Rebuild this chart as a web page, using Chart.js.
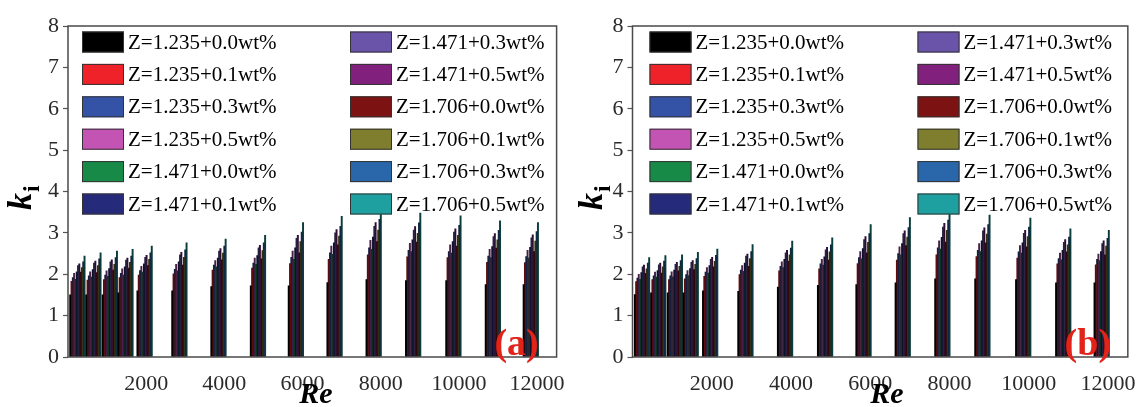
<!DOCTYPE html>
<html>
<head>
<meta charset="utf-8">
<script src="https://cdn.jsdelivr.net/npm/chart.js@4"></script>
<style>
  body { margin: 0; background: #fff; }
  #wrap { display: flex; width: 1142px; height: 407px; }
  canvas { display: block; }
</style>
</head>
<body>
<div id="wrap">
  <canvas id="chartA" width="571" height="407"></canvas>
  <canvas id="chartB" width="571" height="407"></canvas>
</div>
<script>
// group positions on the Re axis (centre of each 12-bar group)
const re = [240, 650, 1070, 1470, 1960, 2850, 3850, 4860, 5830, 6820, 7820, 8830, 9860, 10870, 11840]

const seriesNames = [
  'Z=1.235+0.0wt%', 'Z=1.235+0.1wt%', 'Z=1.235+0.3wt%', 'Z=1.235+0.5wt%',
  'Z=1.471+0.0wt%', 'Z=1.471+0.1wt%', 'Z=1.471+0.3wt%', 'Z=1.471+0.5wt%',
  'Z=1.706+0.0wt%', 'Z=1.706+0.1wt%', 'Z=1.706+0.3wt%', 'Z=1.706+0.5wt%'
]
const seriesColors = [
  '#000000', '#ee2228', '#3452a6', '#c454b4',
  '#178a48', '#262a7a', '#6a54aa', '#82207e',
  '#7c1212', '#7e7e2e', '#2a66aa', '#1fa0a0'
]

const xTicks = [2000, 4000, 6000, 8000, 10000, 12000]

// panel (a)
const kiA1 = [1.50, 1.50, 1.50, 1.55, 1.60, 1.60, 1.70, 1.72, 1.72, 1.80, 1.87, 1.85, 1.85, 1.75, 1.75]
const kiA2 = [1.83, 1.86, 1.87, 1.92, 1.98, 2.01, 2.10, 2.15, 2.26, 2.36, 2.47, 2.42, 2.40, 2.29, 2.28]
const kiA3 = [1.92, 1.96, 1.98, 2.02, 2.09, 2.12, 2.22, 2.27, 2.41, 2.52, 2.64, 2.58, 2.55, 2.44, 2.43]
const kiA4 = [2.02, 2.06, 2.08, 2.13, 2.19, 2.24, 2.33, 2.39, 2.56, 2.68, 2.82, 2.75, 2.71, 2.60, 2.58]
const kiA5 = [1.88, 1.93, 1.95, 1.98, 2.05, 2.08, 2.18, 2.24, 2.36, 2.48, 2.60, 2.55, 2.51, 2.40, 2.39]
const kiA6 = [2.06, 2.11, 2.14, 2.18, 2.25, 2.30, 2.39, 2.45, 2.64, 2.76, 2.90, 2.83, 2.79, 2.67, 2.65]
const kiA7 = [2.21, 2.27, 2.30, 2.34, 2.41, 2.47, 2.56, 2.64, 2.87, 3.00, 3.16, 3.07, 3.02, 2.91, 2.88]
const kiA8 = [2.25, 2.32, 2.35, 2.39, 2.46, 2.53, 2.62, 2.70, 2.94, 3.08, 3.25, 3.15, 3.10, 2.98, 2.95]
const kiA9 = [2.05, 2.04, 2.10, 2.15, 2.21, 2.22, 2.35, 2.37, 2.52, 2.71, 2.79, 2.78, 2.68, 2.63, 2.55]
const kiA10 = [2.16, 2.21, 2.24, 2.29, 2.36, 2.41, 2.51, 2.57, 2.79, 2.92, 3.07, 2.99, 2.94, 2.83, 2.80]
const kiA11 = [2.30, 2.37, 2.40, 2.44, 2.52, 2.59, 2.68, 2.76, 3.02, 3.16, 3.33, 3.24, 3.18, 3.06, 3.03]
const kiA12 = [2.44, 2.52, 2.56, 2.60, 2.68, 2.76, 2.85, 2.94, 3.25, 3.40, 3.59, 3.48, 3.41, 3.29, 3.25]

// panel (b)
const kiB1 = [1.51, 1.55, 1.55, 1.55, 1.60, 1.59, 1.69, 1.73, 1.75, 1.79, 1.89, 1.89, 1.87, 1.79, 1.79]
const kiB2 = [1.82, 1.87, 1.87, 1.89, 1.95, 1.99, 2.08, 2.13, 2.26, 2.34, 2.47, 2.43, 2.39, 2.25, 2.23]
const kiB3 = [1.91, 1.96, 1.96, 1.99, 2.05, 2.10, 2.19, 2.25, 2.40, 2.50, 2.64, 2.58, 2.54, 2.38, 2.36]
const kiB4 = [2.00, 2.05, 2.06, 2.09, 2.16, 2.21, 2.30, 2.36, 2.55, 2.66, 2.81, 2.74, 2.69, 2.51, 2.49]
const kiB5 = [1.88, 1.93, 1.94, 1.97, 2.03, 2.07, 2.16, 2.22, 2.37, 2.47, 2.61, 2.55, 2.51, 2.35, 2.33]
const kiB6 = [2.04, 2.09, 2.10, 2.14, 2.21, 2.27, 2.36, 2.42, 2.62, 2.74, 2.89, 2.81, 2.76, 2.58, 2.55]
const kiB7 = [2.18, 2.23, 2.24, 2.29, 2.36, 2.44, 2.52, 2.59, 2.84, 2.98, 3.14, 3.05, 2.99, 2.77, 2.74]
const kiB8 = [2.22, 2.27, 2.29, 2.33, 2.41, 2.49, 2.58, 2.65, 2.91, 3.05, 3.23, 3.12, 3.06, 2.84, 2.81]
const kiB9 = [2.02, 2.03, 2.08, 2.11, 2.18, 2.19, 2.32, 2.34, 2.52, 2.69, 2.78, 2.76, 2.66, 2.54, 2.47]
const kiB10 = [2.13, 2.18, 2.19, 2.24, 2.31, 2.38, 2.47, 2.54, 2.77, 2.90, 3.06, 2.97, 2.91, 2.71, 2.68]
const kiB11 = [2.27, 2.32, 2.33, 2.38, 2.46, 2.55, 2.63, 2.71, 2.98, 3.13, 3.31, 3.20, 3.14, 2.90, 2.87]
const kiB12 = [2.40, 2.45, 2.47, 2.53, 2.61, 2.72, 2.80, 2.88, 3.20, 3.37, 3.56, 3.43, 3.36, 3.10, 3.06]

const seriesA = [kiA1, kiA2, kiA3, kiA4, kiA5, kiA6, kiA7, kiA8, kiA9, kiA10, kiA11, kiA12]
const seriesB = [kiB1, kiB2, kiB3, kiB4, kiB5, kiB6, kiB7, kiB8, kiB9, kiB10, kiB11, kiB12]

const SERIF = "'Liberation Serif', 'DejaVu Serif', serif"

// the thin bars are mostly black outline in the original, so shade them down
function shade (hex, k) {
  const n = parseInt(hex.slice(1), 16)
  const r = Math.round(((n >> 16) & 255) * k)
  const g = Math.round(((n >> 8) & 255) * k)
  const b = Math.round((n & 255) * k)
  return `rgb(${r}, ${g}, ${b})`
}

// frame, legend, axis titles and panel tag
function decorPlugin (tag, legendLeft) {
  return {
    id: 'decor',
    afterDraw (chart) {
      const ctx = chart.ctx
      const a = chart.chartArea
      ctx.save()

      ctx.strokeStyle = '#4a4a4a'
      ctx.lineWidth = 1.5
      ctx.strokeRect(a.left, a.top, a.right - a.left, a.bottom - a.top)

      // legend: two columns of six
      ctx.font = '21px ' + SERIF
      ctx.textBaseline = 'middle'
      seriesNames.forEach((name, i) => {
        const col = i < 6 ? 0 : 1
        const row = i % 6
        const bx = a.left + legendLeft + col * 268
        const cy = 42 + row * 32.4
        ctx.fillStyle = seriesColors[i]
        ctx.fillRect(bx, cy - 10.5, 42, 21)
        ctx.strokeStyle = '#333'
        ctx.lineWidth = 1
        ctx.strokeRect(bx + 0.5, cy - 10, 41, 20)
        ctx.fillStyle = '#000'
        ctx.textAlign = 'left'
        ctx.fillText(name, bx + 46, cy + 1)
      })

      // y title k_i
      ctx.save()
      ctx.translate(31, 196)
      ctx.rotate(-Math.PI / 2)
      ctx.fillStyle = '#000'
      ctx.textBaseline = 'alphabetic'
      ctx.textAlign = 'left'
      ctx.font = 'italic bold 34px ' + SERIF
      ctx.fillText('k', -14, 0)
      ctx.font = 'bold 24px ' + SERIF
      ctx.fillText('i', 4, 8)
      ctx.restore()

      // x title
      ctx.fillStyle = '#000'
      ctx.textAlign = 'center'
      ctx.textBaseline = 'alphabetic'
      ctx.font = 'italic bold 30px ' + SERIF
      ctx.fillText('Re', 316, 403)

      // panel tag
      ctx.fillStyle = '#e2231a'
      ctx.font = 'bold 38px ' + SERIF
      ctx.textBaseline = 'middle'
      ctx.fillText(tag, a.right - 40, 345)

      ctx.restore()
    }
  }
}

function panelChart (id, series, tag, leftWidth, rightPad, legendLeft) {
  const datasets = series.map((vals, i) => ({
    label: seriesNames[i],
    data: re.map((x, j) => ({ x: x, y: vals[j] })),
    backgroundColor: shade(seriesColors[i], 0.38),
    borderWidth: 0,
    barThickness: 1.3
  }))

  return new Chart(document.getElementById(id), {
    type: 'bar',
    data: { datasets: datasets },
    options: {
      responsive: false,
      animation: false,
      devicePixelRatio: 1,
      layout: { padding: { top: 26, right: rightPad, bottom: 0, left: 0 } },
      plugins: { legend: { display: false }, tooltip: { enabled: false } },
      scales: {
        x: {
          type: 'linear',
          min: 0,
          max: 12500,
          offset: false,
          grid: { display: false, offset: false },
          border: { display: false },
          afterBuildTicks: (scale) => { scale.ticks = xTicks.map(v => ({ value: v })) },
          afterFit: (scale) => { scale.height = 50 },
          ticks: {
            padding: 6,
            maxRotation: 0,
            autoSkip: false,
            color: '#2a2a2a',
            font: { family: SERIF, size: 22 },
            callback: (v) => String(v)
          }
        },
        y: {
          min: 0,
          max: 8,
          grid: { drawOnChartArea: false, tickLength: 5, tickColor: '#555', tickWidth: 1.2 },
          border: { display: false },
          afterFit: (scale) => { scale.width = leftWidth },
          ticks: {
            stepSize: 0.5,
            padding: 4,
            color: '#2a2a2a',
            font: { family: SERIF, size: 22 },
            callback: (v) => Number.isInteger(v) ? v : ''
          }
        }
      }
    },
    plugins: [decorPlugin(tag, legendLeft)]
  })
}

panelChart('chartA', seriesA, '(a)', 68, 11, 14)
panelChart('chartB', seriesB, '(b)', 61.5, 12, 17)
</script>
</body>
</html>
